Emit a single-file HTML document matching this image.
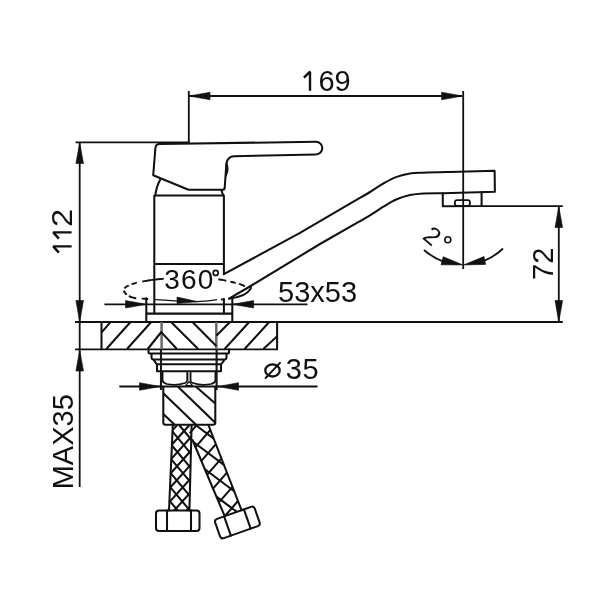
<!DOCTYPE html>
<html><head><meta charset="utf-8"><title>Faucet dimensions</title>
<style>
html,body{margin:0;padding:0;background:#fff;}
body{width:600px;height:600px;overflow:hidden;font-family:"Liberation Sans",sans-serif;}
svg{display:block;will-change:transform;}
.o{fill:none;stroke:#111;stroke-width:2.05;stroke-linecap:round;stroke-linejoin:round;}
.d{fill:none;stroke:#111;stroke-width:1.8;stroke-linecap:butt;}
.t{fill:none;stroke:#111;stroke-width:1;}
.h{fill:none;stroke:#111;stroke-width:2.05;stroke-linecap:butt;}
.g{fill:none;stroke:#111;stroke-width:2.4;stroke-linecap:butt;stroke-linejoin:bevel;}
.a{fill:#111;stroke:#111;stroke-width:0.6;stroke-linejoin:miter;}
text{font-family:"Liberation Sans",sans-serif;fill:#111;font-size:29px;}
</style></head><body>
<svg width="600" height="600" viewBox="0 0 600 600">
<rect width="600" height="600" fill="#fff"/>

<!-- dimension 169 -->
<path class="d" d="M189,96 H462 M188.8,91 V143 M463.2,91 V269"/>
<polygon class="a" points="189,96 210,92.2 210,99.8"/>
<polygon class="a" points="462.5,96 441.5,92.2 441.5,99.8"/>
<path class="g" d="M303.9,77.7 L310,71.7 V90.8"/>
<text x="318.4" y="90.7">69</text>

<!-- dimension 112 / MAX35 -->
<path class="d" d="M75.5,142.4 H190 M79.7,142.4 V487 M75,322 H562.8 M75,349.3 H277.2"/>
<polygon class="a" points="79.7,142.6 75.9,163.5 83.5,163.5"/>
<polygon class="a" points="79.7,322 75.9,300.5 83.5,300.5"/>
<polygon class="a" points="79.7,350 75.9,371 83.5,371"/>
<path class="g" d="M58.9,252.6 L53.2,246.4 H71.6 M58.9,238.6 L53.2,232.4 H71.6"/>
<text transform="translate(72.3,227.1) rotate(-90) scale(1.13,1)">2</text>
<text transform="translate(72.5,489.3) rotate(-90)">MAX35</text>

<!-- dimension 72 -->
<path class="d" d="M481.6,206.1 H562.8 M558.8,206.1 V322"/>
<polygon class="a" points="558.8,206.5 555,227.5 562.6,227.5"/>
<polygon class="a" points="558.8,322 555,300.5 562.6,300.5"/>
<text transform="translate(553.1,280) rotate(-90)">72</text>

<!-- 53x53 -->
<path class="d" d="M104.4,304.3 H307.5"/>
<polygon class="a" points="146.5,304.3 125.5,300.6 125.5,308"/>
<polygon class="a" points="232.5,304.3 253.6,300.6 253.6,308"/>
<text x="278" y="301.6">53x53</text>

<!-- handle -->
<path class="o" d="M159.5,144 L316,141.8 A6.3,6.3 0 0 1 316,154.4 L234,156.2 Q227.6,156.4 226.4,163.5 L224.7,187.6 Q224.6,189.8 222.4,189.8 L188.5,189.8 L153.2,175.3 L155.4,148 Q155.8,144.1 159.5,144 Z"/>
<path d="M226.4,162.6 Q229.8,169.5 225.6,177 Z" style="fill:#111;stroke:#111;stroke-width:1.2;stroke-linejoin:round"/>
<!-- cartridge dome -->
<path class="o" d="M160.3,179.4 Q156.5,186 155.3,195.4 M221.3,190 L223.2,195.4"/>
<!-- body -->
<path class="o" d="M154.3,313.6 V195.5 H223.9 V274.2 M154.3,263.9 H223.9 M223.9,299 V313.6"/>
<!-- base plate -->
<path class="o" d="M146.3,298.3 V322 M232.3,298.3 V322 M146.3,313.6 H232.3"/>

<!-- spout -->
<path class="o" d="M223.9,274.2 L300,232.8 L356,200.2  C358.3,198.8 365.4,194.8 370.0,192.0 C374.6,189.2 378.9,186.0 383.3,183.5 C387.8,181.0 392.2,178.6 396.7,176.9 C401.1,175.2 405.6,174.2 410.0,173.5 C414.4,172.8 416.6,172.9 423.3,172.7 C430.0,172.4 445.6,172.1 450.0,172.0 L494.6,170.7 L494.9,191.7 L443,193.2  C439.7,193.2 428.8,193.1 423.3,193.4 C417.8,193.7 414.4,194.0 410.0,195.0 C405.6,196.0 401.1,197.4 396.7,199.3 C392.2,201.2 387.8,204.0 383.3,206.7 C378.9,209.4 374.6,212.5 370.0,215.3 C365.4,218.1 358.3,222.1 356.0,223.4 L320,244 L249,287 L229,298.6"/>
<path class="o" d="M229.5,298.6 Q246,296.5 250.5,289 Q251.5,287 250,286.6"/>
<!-- aerator -->
<path class="o" d="M442.8,193.2 V206.3 L481.6,205.9 V192.2"/>
<rect class="o" style="stroke-width:1.8" x="454.9" y="200.1" width="15" height="5.9" rx="2.2"/>

<!-- 2 deg arc -->
<path class="d" d="M424,250 A57.8,57.8 0 0 0 443,261.3 M484.5,260.6 A57.8,57.8 0 0 0 503,248.5"/>
<polygon class="a" points="463.2,265 443.2,256.7 441,264.8"/>
<polygon class="a" points="463.4,265 484,256.4 485.6,264.4"/>
<text transform="translate(421.6,238) rotate(40)" style="font-size:25px">2</text>
<circle cx="447.8" cy="239.8" r="3" class="t" style="stroke-width:1.6"/>

<!-- rotation ellipse 360 -->
<path class="d" style="stroke-width:1.9" d="M142.2,281.5 C142.6,281.4 143.7,281.2 144.5,281.1 C145.3,280.9 146.1,280.8 147.0,280.7 C147.8,280.5 148.7,280.4 149.6,280.3 C150.4,280.2 151.3,280.0 152.2,279.9 C153.1,279.8 154.1,279.7 155.0,279.6 C155.9,279.5 156.9,279.4 157.9,279.3 C158.8,279.2 159.8,279.1 160.8,279.0 C161.8,279.0 163.3,278.8 163.8,278.8 M131.5,284.3 C131.6,284.2 131.9,284.1 132.1,284.1 C132.3,284.0 132.5,283.9 132.7,283.9 C132.9,283.8 133.1,283.7 133.3,283.7 C133.6,283.6 133.8,283.5 134.0,283.5 C134.2,283.4 134.4,283.3 134.7,283.3 C134.9,283.2 135.1,283.1 135.4,283.1 C135.6,283.0 135.8,282.9 136.1,282.9 C136.3,282.8 136.7,282.7 136.8,282.7 M124.5,288.5 C124.5,288.5 124.6,288.3 124.8,288.1 C124.9,288.0 125.0,287.9 125.1,287.7 C125.2,287.6 125.4,287.5 125.5,287.3 C125.7,287.2 125.9,287.1 126.0,286.9 C126.2,286.8 126.4,286.7 126.6,286.6 C126.8,286.4 127.0,286.3 127.2,286.2 C127.5,286.0 127.7,285.9 128.0,285.8 C128.2,285.7 128.6,285.5 128.7,285.4 M123.8,290.6 C124.0,290.9 124.3,291.9 124.8,292.6 C125.3,293.3 126.5,294.4 126.8,294.7 M128.8,296.0 C129.3,296.2 130.8,296.9 132.0,297.3 C133.2,297.7 135.5,298.1 136.2,298.3 M141.8,298.6 C142.3,298.6 143.9,298.7 145.0,298.8 C146.1,298.9 147.7,299.0 148.2,299.0 M218.3,279.4 C219.0,279.5 221.0,279.7 222.3,279.9 C223.6,280.1 225.6,280.6 226.3,280.7 M230.3,281.6 C230.8,281.7 232.1,282.0 233.0,282.2 C233.9,282.4 235.2,282.9 235.7,283.0 M239.0,283.8 C239.5,284.0 241.0,284.5 242.0,284.9 C243.0,285.3 244.5,286.1 245.0,286.3 M221,299.2 L225,299.9"/>
<path class="t" style="stroke-width:1.2" d="M154.3,299.3 C156.1,299.4 161.3,299.9 165.0,300.2 C168.7,300.5 172.5,300.6 176.7,300.9 C180.9,301.1 185.4,301.6 190.0,301.7 C194.6,301.8 199.5,301.5 204.0,301.2 C208.5,300.9 214.8,299.9 217.0,299.7"/>
<polygon class="a" points="177,297 177,303.6 197.5,301.6"/>
<text x="164.3" y="288.8" style="font-size:28px;letter-spacing:1.1px">360</text>
<circle cx="215.7" cy="272.9" r="2.5" class="t" style="stroke-width:1.7"/>

<!-- countertop hatch -->
<path class="o" d="M101.5,322 V349.3 M277.1,322 V349.3"/>
<path class="o" style="stroke:#6a6a6a;stroke-width:2.5;stroke-linecap:butt" d="M161.6,322 V349.3 M216.3,322 V349.3"/>
<path class="o" style="stroke:#1a1a1a;stroke-width:2.1;stroke-linecap:butt" d="M161,349.3 V390 M216.6,349.3 V390"/>
<path class="h" d="M101.6,332.4 L110.3,322.3 M106.3,349 L130.3,322.3 M127,349 L151,322.3 M147.7,349 L161.7,331.5
 M161.7,332.6 L176.9,349 M171.3,322.3 L198.2,349 M192.7,322.3 L216.3,346
 M216.3,335.8 L229.7,322.3 M224.6,349 L249,322.3 M244.6,349 L269,322.3 M263.3,349 L277.2,336.2"/>

<!-- washer / nut stack -->
<path class="o" d="M148.5,349.3 V352.5 Q148.5,353.5 149.5,353.5 H228 Q229,353.5 229,352.5 V349.3
 M151.5,353.5 V357.5 Q151.7,359.5 153.5,359.5 H224.5 Q226.3,359.5 226.5,357.5 V353.5
 M153.3,359.5 L156.7,364.2 H221.3 L224.7,359.5
 M157,364.2 V371.2 H221 V364.2"/>
<path class="o" style="stroke-width:1.7" d="M162.6,372.6 V380.5 Q163,383 167,384 Q176,386 185,383 Q187,382.3 187.2,380.5 V372.6
 M190.6,372.6 V380.5 Q190.8,382.3 192.8,383 Q202,386 211,384 Q215,383 215.4,380.5 V372.6"/>
<path class="o" style="stroke-width:1.3" d="M189,381.6 L185.6,385.6 H192.6 Z"/>
<path style="fill:none;stroke:#999;stroke-width:1.6" d="M188.9,372.6 V381"/>

<!-- dia 35 -->
<path class="d" d="M119.3,386.5 H160 M218,386.5 H317.5"/>
<polygon class="a" points="160.3,386.5 139.5,382.7 139.5,390.3"/>
<polygon class="a" points="218,386.5 238.5,382.7 238.5,390.3"/>
<ellipse class="o" style="stroke-width:2.3" cx="272.5" cy="370.4" rx="7.2" ry="6.1"/>
<path class="o" style="stroke-width:1.9" d="M265.6,378 L280,362.8"/>
<text x="285.8" y="379.4" style="letter-spacing:0.6px">35</text>

<!-- lower cylinder -->
<path class="o" d="M160.3,386.4 H218 M163.3,386.4 V422.4 Q163.3,424.7 165.5,424.7 H213 Q215.3,424.7 215.3,422.4 V386.4"/>
<path class="h" style="stroke-width:2.1" d="M178,386.7 L215.3,422.7 M196,386.7 L215.3,403.5 M163.3,393.3 L196,424.7 M163.3,414 L174.7,424.7"/>

<!-- hoses -->
<path d="M172.8,425.0 L169.0,510.5 M191.6,425.0 L189.4,510.5" class="o"/>
<path d="M191.3,425.0 L191.6,425.4 M179.1,425.0 L191.2,439.5 M172.5,431.7 L190.9,453.6 M171.9,445.5 L190.5,467.7 M171.3,459.3 L190.1,481.7 M170.7,473.1 L189.8,495.8 M170.0,486.9 L189.4,509.9 M169.4,500.7 L177.7,510.5 M177.2,425.0 L172.6,430.1 M189.5,425.0 L171.9,444.5 M191.3,436.7 L171.3,458.9 M190.9,450.8 L170.7,473.3 M190.6,464.9 L170.0,487.7 M190.2,479.0 L169.4,502.1 M189.8,493.1 L174.2,510.5 M189.5,507.2 L186.5,510.5" class="h"/>
<path d="M192.5,440.0 L224.7,516.2 M208.4,425.0 L241.6,510.3" class="o"/>
<path d="M195.6,425.0 L213.7,438.6 M193.4,442.0 L223.9,464.9 M204.9,469.3 L234.2,491.3 M216.4,496.6 L236.9,511.9 M196.8,425.0 L189.7,433.2 M210.3,430.0 L195.5,447.1 M215.9,444.2 L201.4,460.9 M221.4,458.4 L207.2,474.7 M226.9,472.6 L213.0,488.6 M232.5,486.8 L218.9,502.4 M238.0,501.0 L224.8,516.2" class="h"/>

<!-- hose nuts -->
<rect class="o" x="156" y="510.5" width="43.5" height="20.5" rx="3"/>
<path class="o" d="M167,510.5 V531 M191,510.5 V531"/>
<g transform="translate(237.4,522.5) rotate(-19.4)">
<rect class="o" x="-21" y="-10.2" width="42" height="20.4" rx="3"/>
<path class="o" d="M-10.5,-10.2 V10.2 M10.5,-10.2 V10.2"/>
</g>
</svg>
</body></html>
